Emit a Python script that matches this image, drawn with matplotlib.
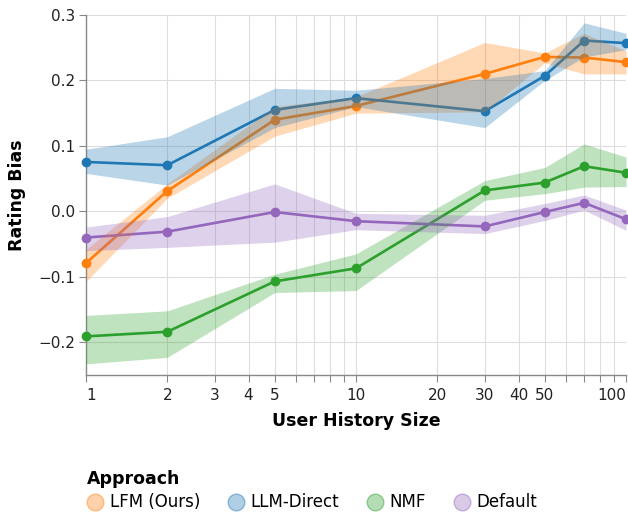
import matplotlib
matplotlib.use("Agg")
import matplotlib.pyplot as plt
from matplotlib.lines import Line2D
from matplotlib.colors import to_rgb

# history sizes on the x axis
history_sizes = [1, 2, 5, 10, 30, 50, 70, 100]

approaches = ["LFM (Ours)", "LLM-Direct", "NMF", "Default"]
colours = ["#ff7f0e", "#1f77b4", "#2ca02c", "#9467bd"]

lfm_mean = [-0.079, 0.031, 0.140, 0.161, 0.210, 0.236, 0.235, 0.228]
lfm_lo = [-0.107, 0.020, 0.115, 0.150, 0.152, 0.227, 0.210, 0.210]
lfm_hi = [-0.058, 0.042, 0.160, 0.175, 0.258, 0.242, 0.272, 0.245]

llm_mean = [0.0755, 0.0705, 0.155, 0.173, 0.153, 0.207, 0.261, 0.257]
llm_lo = [0.058, 0.040, 0.128, 0.160, 0.128, 0.200, 0.236, 0.247]
llm_hi = [0.095, 0.114, 0.188, 0.185, 0.203, 0.215, 0.288, 0.272]

nmf_mean = [-0.191, -0.184, -0.107, -0.087, 0.032, 0.044, 0.069, 0.059]
nmf_lo = [-0.233, -0.223, -0.124, -0.121, 0.017, 0.027, 0.037, 0.038]
nmf_hi = [-0.159, -0.152, -0.096, -0.065, 0.047, 0.067, 0.103, 0.083]

def_mean = [-0.040, -0.031, -0.001, -0.015, -0.023, -0.001, 0.013, -0.012]
def_lo = [-0.060, -0.055, -0.047, -0.028, -0.034, -0.014, 0.002, -0.029]
def_hi = [-0.024, -0.008, 0.042, -0.003, -0.006, 0.012, 0.025, 0.002]

means = [lfm_mean, llm_mean, nmf_mean, def_mean]
lows = [lfm_lo, llm_lo, nmf_lo, def_lo]
highs = [lfm_hi, llm_hi, nmf_hi, def_hi]

x_major = [1, 2, 3, 4, 5, 10, 20, 30, 40, 50, 100]
x_minor = [6, 7, 8, 9, 60, 70, 80, 90]
y_ticks = [-0.2, -0.1, 0.0, 0.1, 0.2, 0.3]

fig = plt.figure(figsize=(6.28, 5.17), dpi=100)
ax = fig.add_axes([86 / 628, 1 - 375 / 517, 540 / 628, 360 / 517])

# lines first, bands drawn on top of them
for m, c in zip(means, colours):
    ax.plot(history_sizes, m, color=c, lw=1.9, marker="o", ms=6, zorder=3,
            clip_on=False)
for lo, hi, c in zip(lows, highs, colours):
    ax.fill_between(history_sizes, lo, hi, color=c, alpha=0.3, lw=0, zorder=4)

ax.set_xscale("log")
ax.set_xlim(1, 100)
ax.set_ylim(-0.25, 0.3)

ax.set_xticks(x_major)
ax.set_xticklabels([str(v) for v in x_major])
ax.set_xticks(x_minor, minor=True)
ax.set_xticklabels([], minor=True)
labels = ax.get_xticklabels()
labels[0].set_ha("left")
labels[-1].set_ha("right")

ax.set_yticks(y_ticks)
ax.set_yticklabels([f"{v:.1f}".replace("-", "\u2212") for v in y_ticks])

ax.grid(True, which="both", color="#dddddd", lw=0.8, zorder=0)
ax.set_axisbelow(True)
for side in ["top", "right"]:
    ax.spines[side].set_visible(False)
for side in ["left", "bottom"]:
    ax.spines[side].set_color("#888888")
    ax.spines[side].set_linewidth(1)
ax.tick_params(which="both", color="#888888", length=5, width=0.8,
               labelsize=11, labelcolor="#222222")
ax.tick_params(axis="x", pad=4)
ax.tick_params(axis="y", pad=3)

ax.set_xlabel("User History Size", fontsize=12.5, fontweight="bold", labelpad=7)
ax.set_ylabel("Rating Bias", fontsize=12.5, fontweight="bold", labelpad=9)

handles = []
for c in colours:
    r, g, b = to_rgb(c)
    handles.append(Line2D([], [], ls="none", marker="o", ms=12,
                          markerfacecolor=(r, g, b, 0.35),
                          markeredgecolor=(r, g, b, 0.45), markeredgewidth=1))
leg = fig.legend(handles, approaches, loc="upper left",
                 bbox_to_anchor=(74 / 628, 1 - 457 / 517), ncol=4,
                 frameon=False, title="Approach", alignment="left",
                 title_fontproperties={"weight": "bold", "size": 12.5},
                 fontsize=12, handlelength=0.9, handletextpad=0.45,
                 columnspacing=1.68, borderpad=0.3, labelspacing=0.3)

fig.savefig("out.png", dpi=100)
